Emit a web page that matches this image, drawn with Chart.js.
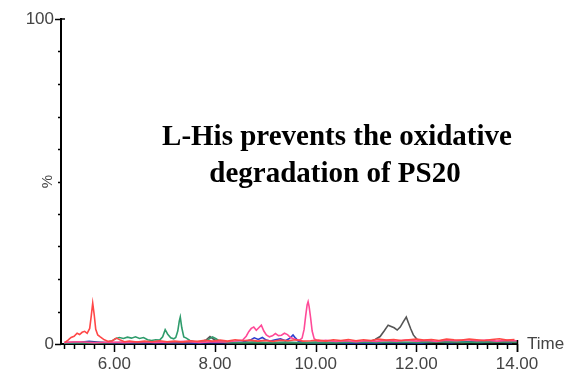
<!DOCTYPE html>
<html>
<head>
<meta charset="utf-8">
<script src="https://cdn.jsdelivr.net/npm/chart.js@4/dist/chart.umd.min.js"></script>
<style>
  html, body { margin: 0; padding: 0; background: #fff; }
  #chrom { display: block; }
</style>
</head>
<body>
<canvas id="chrom" width="567" height="375"></canvas>
<script>
// retention time (min) and relative intensity (%) per trace
const redTime = [
  5.02, 5.08, 5.14, 5.2, 5.26, 5.31, 5.36, 5.41, 5.46, 5.51,
  5.54, 5.57, 5.6, 5.63, 5.67, 5.72, 5.8, 5.88, 5.96, 6.04,
  6.12, 6.2, 6.3, 6.45, 6.6, 6.75, 6.9, 7.05, 7.2, 7.35,
  7.5, 7.65, 7.8, 7.95, 8.1, 8.25, 8.4, 8.55, 8.7, 8.85,
  9.0, 9.15, 9.3, 9.45, 9.6, 9.75, 9.9, 10.05, 10.2, 10.35,
  10.5, 10.65, 10.8, 10.95, 11.1, 11.25, 11.4, 11.55, 11.7, 11.85,
  12.0, 12.15, 12.3, 12.45, 12.6, 12.75, 12.9, 13.05, 13.2, 13.35,
  13.5, 13.65, 13.8, 13.95
];
const redPct = [
  0.5, 1.2, 2.0, 2.4, 3.3, 2.9, 3.6, 3.9, 3.3, 4.8,
  8.5, 12.6, 9.0, 4.5, 2.8, 2.2, 1.3, 0.8, 1.0, 1.8,
  1.2, 0.7, 0.9, 0.6, 0.9, 0.7, 1.0, 0.7, 0.9, 0.6,
  1.0, 0.8, 1.1, 0.9, 1.2, 0.9, 1.3, 1.0, 1.2, 0.9,
  1.1, 0.8, 1.2, 1.0, 1.3, 0.9, 1.0, 1.2, 0.9, 1.3,
  1.1, 1.4, 1.0, 1.3, 1.1, 1.5, 1.2, 1.4, 1.1, 1.3,
  1.5, 1.2, 1.4, 1.1, 1.5, 1.3, 1.2, 1.5, 1.3, 1.1,
  1.4, 1.6, 1.2, 1.4
];

const greenTime = [
  5.0, 5.3, 5.6, 5.85, 5.95, 6.02, 6.1, 6.18, 6.26, 6.34,
  6.42, 6.5, 6.58, 6.66, 6.74, 6.82, 6.9, 6.96, 7.01, 7.06,
  7.12, 7.18, 7.22, 7.26, 7.29, 7.31, 7.34, 7.38, 7.43, 7.5,
  7.6, 7.7, 7.8, 7.88, 7.95, 8.02, 8.1, 8.25, 8.5, 8.8,
  9.1, 9.4, 9.7, 10.0, 10.4, 10.8, 11.2, 11.6, 12.0, 12.4,
  12.8, 13.2, 13.6, 14.0
];
const greenPct = [
  0.3, 0.4, 0.3, 0.5, 0.9, 1.6, 2.0, 1.7, 2.1, 1.8,
  2.2, 1.7, 2.0, 1.3, 1.1, 1.3, 1.2, 2.2, 4.4, 3.0,
  1.9, 1.6, 2.0, 4.0, 7.0, 8.3, 5.0, 2.2, 1.8, 1.1,
  0.6, 0.5, 0.8, 1.5, 2.2, 1.6, 0.8, 0.5, 0.4, 0.5,
  0.4, 0.5, 0.4, 0.5, 0.4, 0.6, 0.5, 0.6, 0.5, 0.7,
  0.6, 0.5, 0.7, 0.6
];

const pinkTime = [
  5.0, 5.3, 5.6, 5.9, 6.2, 6.5, 6.8, 7.1, 7.4, 7.7,
  8.0, 8.2, 8.4, 8.55, 8.62, 8.67, 8.72, 8.77, 8.82, 8.87,
  8.92, 8.97, 9.02, 9.08, 9.14, 9.2, 9.26, 9.32, 9.38, 9.44,
  9.5, 9.56, 9.62, 9.68, 9.73, 9.77, 9.8, 9.83, 9.85, 9.87,
  9.9, 9.93, 9.97, 10.05, 10.2, 10.4, 10.6, 10.8, 11.0, 11.2,
  11.4, 11.6, 11.8, 12.0, 12.2, 12.4, 12.6, 12.8, 13.0, 13.2,
  13.4, 13.6, 13.8, 14.0
];
const pinkPct = [
  0.5, 0.7, 0.4, 0.6, 0.5, 0.7, 0.5, 0.6, 0.8, 0.5,
  0.7, 0.6, 0.9, 1.2, 2.4, 3.8, 4.8, 5.2, 4.2, 5.0,
  5.8, 4.0, 2.8, 2.2, 2.5, 3.2, 2.6, 2.7, 3.3, 2.9,
  2.0, 1.6, 1.3, 1.2, 1.8, 4.5, 8.5, 12.0, 13.0, 11.5,
  8.0, 4.0, 1.6, 0.9, 1.1, 0.8, 1.0, 0.7, 1.0, 0.8,
  1.1, 0.9, 1.2, 0.9, 1.1, 0.8, 1.2, 1.0, 1.3, 1.0,
  1.2, 0.9, 1.1, 1.0
];

const blueTime = [
  5.0, 5.3, 5.5, 5.65, 5.9, 6.2, 6.5, 6.8, 7.1, 7.4,
  7.7, 8.0, 8.3, 8.55, 8.7, 8.78, 8.86, 8.94, 9.02, 9.1,
  9.2, 9.3, 9.4, 9.48, 9.55, 9.6, 9.66, 9.8, 10.0, 10.3,
  10.6, 10.9, 11.2, 11.5, 11.8, 12.1, 12.4, 12.7, 13.0, 13.3,
  13.6, 13.9
];
const bluePct = [
  0.3, 0.5, 0.8, 0.6, 0.3, 0.4, 0.3, 0.5, 0.3, 0.4,
  0.3, 0.5, 0.4, 0.6, 1.2, 1.9, 1.4, 2.0, 1.2, 0.9,
  1.3, 1.6, 1.0, 1.7, 2.8, 1.8, 0.8, 0.4, 0.3, 0.5,
  0.3, 0.4, 0.3, 0.5, 0.4, 0.3, 0.6, 0.4, 0.7, 0.5,
  0.6, 0.4
];

const greyTime = [
  5.0, 5.3, 5.6, 5.9, 6.2, 6.5, 6.8, 7.1, 7.4, 7.7,
  7.82, 7.9, 7.96, 8.05, 8.2, 8.5, 8.8, 9.1, 9.4, 9.7,
  10.0, 10.3, 10.6, 10.9, 11.08, 11.18, 11.28, 11.36, 11.44, 11.5,
  11.56, 11.62, 11.68, 11.74, 11.8, 11.84, 11.89, 11.94, 12.02, 12.12,
  12.3, 12.6, 12.9, 13.2, 13.5, 13.8, 14.0
];
const greyPct = [
  0.4, 0.6, 0.5, 0.3, 0.5, 0.4, 0.6, 0.4, 0.5, 0.6,
  1.2, 2.3, 1.6, 0.8, 0.5, 0.4, 0.6, 0.4, 0.5, 0.4,
  0.5, 0.4, 0.6, 0.5, 0.7, 1.4, 2.3, 4.0, 5.8, 5.4,
  5.0, 4.3, 5.2, 6.8, 8.3, 6.6, 4.6, 2.8, 1.3, 0.7,
  0.5, 0.6, 0.4, 0.6, 0.5, 0.6, 0.5
];

const blackTime = [5.0, 5.5, 6.0, 6.5, 7.0, 7.5, 8.0, 8.5, 9.0, 9.5, 10.0, 10.5, 11.0, 11.5, 12.0, 12.5, 13.0, 13.5, 14.0];
const blackPct = [0.2, 0.3, 0.2, 0.3, 0.2, 0.3, 0.3, 0.2, 0.3, 0.2, 0.3, 0.2, 0.3, 0.2, 0.3, 0.2, 0.3, 0.2, 0.3];

const yTickLabels = { 0: '0', 100: '100' };
const noteLines = ['L-His prevents the oxidative', 'degradation of PS20'];

const toPoints = (ts, vs) => ts.map((t, i) => ({ x: t, y: vs[i] }));

const trace = (label, ts, vs, color) => ({
  label,
  data: toPoints(ts, vs),
  borderColor: color,
  borderWidth: 1.6,
  pointRadius: 0,
  tension: 0,
  fill: false
});

const isEvenWhole = v => Math.abs(v - Math.round(v)) < 1e-6 && Math.round(v) % 2 === 0;

// tick marks, axis captions and the note
const decorations = {
  id: 'decorations',
  afterDraw(chart) {
    const { ctx, chartArea, scales: { x, y } } = chart;
    ctx.save();
    ctx.strokeStyle = '#000';
    ctx.lineWidth = 1.5;

    x.ticks.forEach(t => {
      const px = Math.round(x.getPixelForValue(t.value)) + 0.5;
      const len = isEvenWhole(t.value) ? 8 : 5;
      ctx.beginPath();
      ctx.moveTo(px, chartArea.bottom);
      ctx.lineTo(px, chartArea.bottom + len);
      ctx.stroke();
    });
    // end hook of the time axis
    const xEnd = Math.round(x.getPixelForValue(x.max)) + 0.5;
    ctx.beginPath();
    ctx.moveTo(xEnd, chartArea.bottom - 4);
    ctx.lineTo(xEnd, chartArea.bottom + 8);
    ctx.stroke();

    y.ticks.forEach(t => {
      const py = Math.round(y.getPixelForValue(t.value)) + 0.5;
      const len = (t.value === 0 || t.value === 100) ? 6 : 3;
      ctx.beginPath();
      ctx.moveTo(chartArea.left, py);
      ctx.lineTo(chartArea.left - len, py);
      ctx.stroke();
    });
    // top hook of the intensity axis
    ctx.beginPath();
    ctx.moveTo(chartArea.left - 1, chartArea.top);
    ctx.lineTo(chartArea.left + 4, chartArea.top);
    ctx.stroke();

    ctx.fillStyle = '#444';
    ctx.font = '15px "Liberation Sans", Arial, sans-serif';
    ctx.textAlign = 'center';
    ctx.textBaseline = 'middle';
    ctx.save();
    ctx.translate(chartArea.left - 13, y.getPixelForValue(50));
    ctx.rotate(-Math.PI / 2);
    ctx.fillText('%', 0, 0);
    ctx.restore();

    ctx.font = '17px "Liberation Sans", Arial, sans-serif';
    ctx.textAlign = 'left';
    ctx.fillText('Time', chartArea.right + 10, chartArea.bottom);

    ctx.fillStyle = '#000';
    ctx.font = 'bold 29px "Liberation Serif", "Times New Roman", serif';
    ctx.textAlign = 'center';
    ctx.textBaseline = 'alphabetic';
    ctx.fillText(noteLines[0], 337, 145);
    ctx.fillText(noteLines[1], 335, 182);
    ctx.restore();
  }
};

new Chart(document.getElementById('chrom'), {
  type: 'line',
  data: {
    datasets: [
      trace('Trace 1', redTime, redPct, '#ff4747'),
      trace('Trace 2', pinkTime, pinkPct, '#ff4a98'),
      trace('Trace 3', greenTime, greenPct, '#2f9c6c'),
      trace('Trace 4', greyTime, greyPct, '#555555'),
      trace('Trace 5', blueTime, bluePct, '#2b3fd0'),
      trace('Trace 6', blackTime, blackPct, '#111111')
    ]
  },
  options: {
    responsive: false,
    animation: false,
    layout: { padding: { top: 19, right: 50, left: 0, bottom: 0 } },
    plugins: {
      legend: { display: false },
      tooltip: { enabled: false }
    },
    scales: {
      x: {
        type: 'linear',
        min: 4.94,
        max: 14.0,
        afterFit: s => { s.height = 31; },
        border: { display: true, color: '#000', width: 2 },
        grid: { display: false, drawTicks: false },
        ticks: {
          stepSize: 0.2,
          includeBounds: false,
          autoSkip: false,
          maxRotation: 0,
          padding: 10,
          color: '#444',
          font: { family: '"Liberation Sans", Arial, sans-serif', size: 17 },
          callback: v => isEvenWhole(v) ? v.toFixed(2) : ''
        }
      },
      y: {
        min: 0,
        max: 100,
        afterFit: s => { s.width = 61; },
        border: { display: true, color: '#000', width: 2 },
        grid: { display: false, drawTicks: false },
        ticks: {
          stepSize: 10,
          autoSkip: false,
          padding: 7,
          color: '#444',
          font: { family: '"Liberation Sans", Arial, sans-serif', size: 17 },
          callback: v => yTickLabels[v] ?? ''
        }
      }
    }
  },
  plugins: [decorations]
});
</script>
</body>
</html>
